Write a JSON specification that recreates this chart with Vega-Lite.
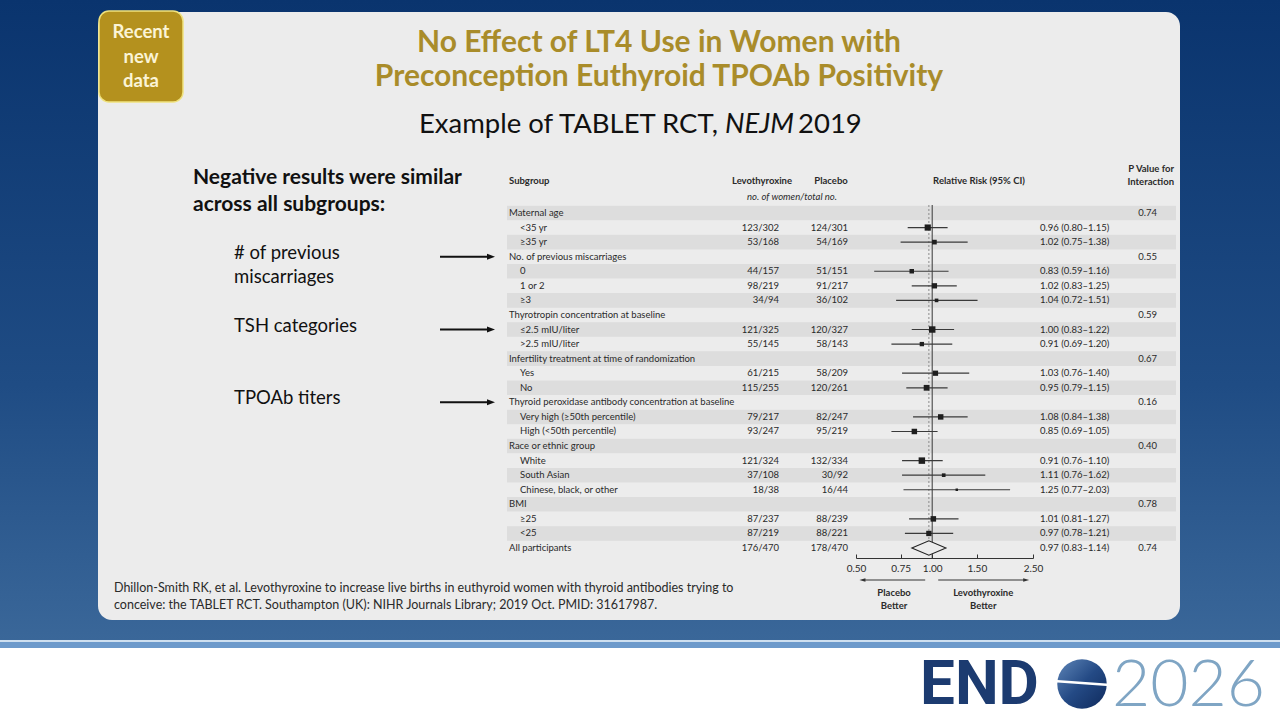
{
  "$schema": "https://vega.github.io/schema/vega-lite/v6.json",
  "width": 1280,
  "height": 720,
  "autosize": {"type": "none"},
  "padding": 0,
  "background": "#ffffff",
  "config": {
    "view": {"stroke": null},
    "text": {"font": "Lato"},
    "axis": {"labelFont": "Lato"}
  },
  "datasets": {
    "rows": [
      {"idx": 0, "label": "Maternal age", "kind": "head", "p": "0.74"},
      {"idx": 1, "label": "<35 yr", "kind": "item", "levo": "123/302", "plac": "124/301", "rr": 0.96, "lo": 0.80, "hi": 1.15, "n": 603, "ci": "0.96 (0.80–1.15)"},
      {"idx": 2, "label": "≥35 yr", "kind": "item", "levo": "53/168", "plac": "54/169", "rr": 1.02, "lo": 0.75, "hi": 1.38, "n": 337, "ci": "1.02 (0.75–1.38)"},
      {"idx": 3, "label": "No. of previous miscarriages", "kind": "head", "p": "0.55"},
      {"idx": 4, "label": "0", "kind": "item", "levo": "44/157", "plac": "51/151", "rr": 0.83, "lo": 0.59, "hi": 1.16, "n": 308, "ci": "0.83 (0.59–1.16)"},
      {"idx": 5, "label": "1 or 2", "kind": "item", "levo": "98/219", "plac": "91/217", "rr": 1.02, "lo": 0.83, "hi": 1.25, "n": 436, "ci": "1.02 (0.83–1.25)"},
      {"idx": 6, "label": "≥3", "kind": "item", "levo": "34/94", "plac": "36/102", "rr": 1.04, "lo": 0.72, "hi": 1.51, "n": 196, "ci": "1.04 (0.72–1.51)"},
      {"idx": 7, "label": "Thyrotropin concentration at baseline", "kind": "head", "p": "0.59"},
      {"idx": 8, "label": "≤2.5 mIU/liter", "kind": "item", "levo": "121/325", "plac": "120/327", "rr": 1.00, "lo": 0.83, "hi": 1.22, "n": 652, "ci": "1.00 (0.83–1.22)"},
      {"idx": 9, "label": ">2.5 mIU/liter", "kind": "item", "levo": "55/145", "plac": "58/143", "rr": 0.91, "lo": 0.69, "hi": 1.20, "n": 288, "ci": "0.91 (0.69–1.20)"},
      {"idx": 10, "label": "Infertility treatment at time of randomization", "kind": "head", "p": "0.67"},
      {"idx": 11, "label": "Yes", "kind": "item", "levo": "61/215", "plac": "58/209", "rr": 1.03, "lo": 0.76, "hi": 1.40, "n": 424, "ci": "1.03 (0.76–1.40)"},
      {"idx": 12, "label": "No", "kind": "item", "levo": "115/255", "plac": "120/261", "rr": 0.95, "lo": 0.79, "hi": 1.15, "n": 516, "ci": "0.95 (0.79–1.15)"},
      {"idx": 13, "label": "Thyroid peroxidase antibody concentration at baseline", "kind": "head", "p": "0.16"},
      {"idx": 14, "label": "Very high (≥50th percentile)", "kind": "item", "levo": "79/217", "plac": "82/247", "rr": 1.08, "lo": 0.84, "hi": 1.38, "n": 464, "ci": "1.08 (0.84–1.38)"},
      {"idx": 15, "label": "High (<50th percentile)", "kind": "item", "levo": "93/247", "plac": "95/219", "rr": 0.85, "lo": 0.69, "hi": 1.05, "n": 466, "ci": "0.85 (0.69–1.05)"},
      {"idx": 16, "label": "Race or ethnic group", "kind": "head", "p": "0.40"},
      {"idx": 17, "label": "White", "kind": "item", "levo": "121/324", "plac": "132/334", "rr": 0.91, "lo": 0.76, "hi": 1.10, "n": 658, "ci": "0.91 (0.76–1.10)"},
      {"idx": 18, "label": "South Asian", "kind": "item", "levo": "37/108", "plac": "30/92", "rr": 1.11, "lo": 0.76, "hi": 1.62, "n": 200, "ci": "1.11 (0.76–1.62)"},
      {"idx": 19, "label": "Chinese, black, or other", "kind": "item", "levo": "18/38", "plac": "16/44", "rr": 1.25, "lo": 0.77, "hi": 2.03, "n": 82, "ci": "1.25 (0.77–2.03)"},
      {"idx": 20, "label": "BMI", "kind": "head", "p": "0.78"},
      {"idx": 21, "label": "≥25", "kind": "item", "levo": "87/237", "plac": "88/239", "rr": 1.01, "lo": 0.81, "hi": 1.27, "n": 476, "ci": "1.01 (0.81–1.27)"},
      {"idx": 22, "label": "<25", "kind": "item", "levo": "87/219", "plac": "88/221", "rr": 0.97, "lo": 0.78, "hi": 1.21, "n": 440, "ci": "0.97 (0.78–1.21)"},
      {"idx": 23, "label": "All participants", "kind": "all", "levo": "176/470", "plac": "178/470", "rr": 0.97, "lo": 0.83, "hi": 1.14, "n": 940, "ci": "0.97 (0.83–1.14)", "p": "0.74"}
    ],
    "notes": [
      {"idx": 3, "note": "# of previous"},
      {"idx": 8, "note": "TSH categories"},
      {"idx": 13, "note": "TPOAb titers"}
    ]
  },
  "layer": [
    {
      "data": {"values": [{}]},
      "mark": {"type": "rect", "fill": {"gradient": "linear", "x1": 0, "y1": 0, "x2": 0, "y2": 1, "stops": [{"offset": 0, "color": "#0a346e"}, {"offset": 0.6, "color": "#1f4c84"}, {"offset": 1, "color": "#3a6799"}]}},
      "encoding": {"x": {"value": 0}, "x2": {"value": 1280}, "y": {"value": 0}, "y2": {"value": 641}}
    },
    {
      "data": {"values": [{}]},
      "mark": {"type": "rect", "fill": "#6d9acb"},
      "encoding": {"x": {"value": 0}, "x2": {"value": 1280}, "y": {"value": 642}, "y2": {"value": 648}}
    },
    {
      "data": {"values": [{}]},
      "mark": {"type": "rect", "fill": "#cfe0f0"},
      "encoding": {"x": {"value": 0}, "x2": {"value": 1280}, "y": {"value": 640}, "y2": {"value": 642}}
    },
    {
      "data": {"values": [{}]},
      "mark": {"type": "rect", "fill": "#ececec", "cornerRadius": 14},
      "encoding": {"x": {"value": 98}, "x2": {"value": 1180}, "y": {"value": 12}, "y2": {"value": 620}}
    },
    {
      "data": {"values": [{}]},
      "mark": {"type": "rect", "fill": "#b4911e", "stroke": "#efe27e", "strokeWidth": 1.5, "cornerRadius": 10},
      "encoding": {"x": {"value": 99}, "x2": {"value": 183}, "y": {"value": 11}, "y2": {"value": 102}}
    },
    {
      "data": {"values": [{}]},
      "mark": {"type": "text", "text": ["Recent", "new", "data"], "fontSize": 18.5, "fontWeight": "bold", "color": "#fbf4d6", "align": "center", "baseline": "middle", "lineHeight": 24.5},
      "encoding": {"x": {"value": 141}, "y": {"value": 32}}
    },
    {
      "data": {"values": [{}]},
      "mark": {"type": "text", "text": ["No Effect of LT4 Use in Women with", "Preconception Euthyroid TPOAb Positivity"], "fontSize": 30, "fontWeight": "bold", "color": "#a98c2a", "align": "center", "baseline": "middle", "lineHeight": 34},
      "encoding": {"x": {"value": 659}, "y": {"value": 43}}
    },
    {
      "data": {"values": [{}]},
      "mark": {"type": "text", "text": "Example of TABLET RCT,", "fontSize": 27.5, "color": "#111111", "align": "right", "baseline": "middle"},
      "encoding": {"x": {"value": 718}, "y": {"value": 125}}
    },
    {
      "data": {"values": [{}]},
      "mark": {"type": "text", "text": "NEJM", "fontSize": 27.5, "fontStyle": "italic", "color": "#111111", "align": "left", "baseline": "middle"},
      "encoding": {"x": {"value": 725}, "y": {"value": 125}}
    },
    {
      "data": {"values": [{}]},
      "mark": {"type": "text", "text": "2019", "fontSize": 27.5, "color": "#111111", "align": "left", "baseline": "middle"},
      "encoding": {"x": {"value": 798}, "y": {"value": 125}}
    },
    {
      "data": {"values": [{}]},
      "mark": {"type": "text", "text": ["Negative results were similar", "across all subgroups:"], "fontSize": 21, "fontWeight": "bold", "color": "#111111", "align": "left", "baseline": "middle", "lineHeight": 27},
      "encoding": {"x": {"value": 193}, "y": {"value": 178}}
    },
    {
      "data": {"values": [{}]},
      "mark": {"type": "text", "text": "miscarriages", "fontSize": 18.5, "color": "#111111", "align": "left", "baseline": "middle"},
      "encoding": {"x": {"value": 234}, "y": {"value": 277}}
    },
    {
      "data": {"name": "rows"},
      "transform": [{"filter": "datum.idx % 2 == 0"}],
      "mark": {"type": "rect", "fill": "#dddddd"},
      "encoding": {
        "y": {"field": "idx", "type": "ordinal", "axis": null, "scale": {"type": "band", "domain": [0, 1, 2, 3, 4, 5, 6, 7, 8, 9, 10, 11, 12, 13, 14, 15, 16, 17, 18, 19, 20, 21, 22, 23], "range": [205.7, 555.3], "paddingInner": 0, "paddingOuter": 0}},
        "x": {"value": 507},
        "x2": {"value": 1176}
      }
    },
    {
      "data": {"name": "notes"},
      "mark": {"type": "text", "fontSize": 18.5, "color": "#111111", "align": "left", "baseline": "middle", "dy": -4},
      "encoding": {"y": {"field": "idx", "type": "ordinal"}, "x": {"value": 234}, "text": {"field": "note"}}
    },
    {
      "data": {"name": "notes"},
      "mark": {"type": "rule", "color": "#111111", "strokeWidth": 2},
      "encoding": {"y": {"field": "idx", "type": "ordinal"}, "x": {"value": 440}, "x2": {"value": 489}}
    },
    {
      "data": {"name": "notes"},
      "mark": {"type": "point", "shape": "M-1,-0.75L1,0L-1,0.75Z", "size": 64, "filled": true, "color": "#111111", "opacity": 1},
      "encoding": {"y": {"field": "idx", "type": "ordinal"}, "x": {"value": 491}}
    },
    {
      "data": {"values": [{}]},
      "mark": {"type": "text", "text": "Subgroup", "fontSize": 9.5, "fontWeight": "bold", "color": "#2a2a2a", "align": "left", "baseline": "middle"},
      "encoding": {"x": {"value": 509}, "y": {"value": 181}}
    },
    {
      "data": {"values": [{}]},
      "mark": {"type": "text", "text": "Levothyroxine", "fontSize": 9.5, "fontWeight": "bold", "color": "#2a2a2a", "align": "center", "baseline": "middle"},
      "encoding": {"x": {"value": 762}, "y": {"value": 181}}
    },
    {
      "data": {"values": [{}]},
      "mark": {"type": "text", "text": "Placebo", "fontSize": 9.5, "fontWeight": "bold", "color": "#2a2a2a", "align": "center", "baseline": "middle"},
      "encoding": {"x": {"value": 831}, "y": {"value": 181}}
    },
    {
      "data": {"values": [{}]},
      "mark": {"type": "text", "text": "no. of women/total no.", "fontSize": 9.5, "fontStyle": "italic", "color": "#2a2a2a", "align": "center", "baseline": "middle"},
      "encoding": {"x": {"value": 792}, "y": {"value": 197}}
    },
    {
      "data": {"values": [{}]},
      "mark": {"type": "text", "text": "Relative Risk (95% CI)", "fontSize": 9.5, "fontWeight": "bold", "color": "#2a2a2a", "align": "center", "baseline": "middle"},
      "encoding": {"x": {"value": 979}, "y": {"value": 181}}
    },
    {
      "data": {"values": [{}]},
      "mark": {"type": "text", "text": ["P Value for", "Interaction"], "fontSize": 9.5, "fontWeight": "bold", "color": "#2a2a2a", "align": "right", "baseline": "middle", "lineHeight": 12.5},
      "encoding": {"x": {"value": 1174}, "y": {"value": 169}}
    },
    {
      "data": {"name": "rows"},
      "transform": [{"filter": "datum.kind != 'item'"}],
      "mark": {"type": "text", "fontSize": 9.5, "color": "#2a2a2a", "align": "left", "baseline": "middle"},
      "encoding": {"y": {"field": "idx", "type": "ordinal"}, "x": {"value": 509}, "text": {"field": "label"}}
    },
    {
      "data": {"name": "rows"},
      "transform": [{"filter": "datum.kind == 'item'"}],
      "mark": {"type": "text", "fontSize": 9.5, "color": "#2a2a2a", "align": "left", "baseline": "middle"},
      "encoding": {"y": {"field": "idx", "type": "ordinal"}, "x": {"value": 520}, "text": {"field": "label"}}
    },
    {
      "data": {"name": "rows"},
      "transform": [{"filter": "datum.levo"}],
      "mark": {"type": "text", "fontSize": 9.5, "color": "#2a2a2a", "align": "right", "baseline": "middle"},
      "encoding": {"y": {"field": "idx", "type": "ordinal"}, "x": {"value": 779}, "text": {"field": "levo"}}
    },
    {
      "data": {"name": "rows"},
      "transform": [{"filter": "datum.plac"}],
      "mark": {"type": "text", "fontSize": 9.5, "color": "#2a2a2a", "align": "right", "baseline": "middle"},
      "encoding": {"y": {"field": "idx", "type": "ordinal"}, "x": {"value": 848}, "text": {"field": "plac"}}
    },
    {
      "data": {"name": "rows"},
      "transform": [{"filter": "datum.ci"}],
      "mark": {"type": "text", "fontSize": 9.5, "color": "#2a2a2a", "align": "left", "baseline": "middle"},
      "encoding": {"y": {"field": "idx", "type": "ordinal"}, "x": {"value": 1040}, "text": {"field": "ci"}}
    },
    {
      "data": {"name": "rows"},
      "transform": [{"filter": "datum.p"}],
      "mark": {"type": "text", "fontSize": 9.5, "color": "#2a2a2a", "align": "right", "baseline": "middle"},
      "encoding": {"y": {"field": "idx", "type": "ordinal"}, "x": {"value": 1157}, "text": {"field": "p"}}
    },
    {
      "data": {"values": [{"ref": 1}]},
      "mark": {"type": "rule", "color": "#555555", "strokeWidth": 1.2},
      "encoding": {
        "x": {"field": "ref", "type": "quantitative", "scale": {"type": "log", "domain": [0.5, 2.5], "range": [856, 1033], "nice": false, "zero": false},
          "axis": {"title": null, "orient": "bottom", "offset": -162, "zindex": 1, "values": [0.5, 0.75, 1, 1.5, 2.5], "format": ".2f", "grid": false, "tickSize": -4, "labelPadding": 9, "labelFontSize": 10, "labelColor": "#2a2a2a", "domainColor": "#333333", "tickColor": "#333333", "labelFlush": false, "labelOverlap": false}},
        "y": {"value": 205},
        "y2": {"value": 558}
      }
    },
    {
      "data": {"name": "rows"},
      "transform": [{"filter": "datum.kind == 'all'"}],
      "mark": {"type": "rule", "color": "#8a8a8a", "strokeWidth": 1, "strokeDash": [2, 2]},
      "encoding": {"x": {"field": "rr", "type": "quantitative"}, "y": {"value": 205}, "y2": {"value": 548}}
    },
    {
      "data": {"name": "rows"},
      "transform": [{"filter": "datum.kind == 'item'"}],
      "mark": {"type": "rule", "color": "#3a3a3a", "strokeWidth": 1.2},
      "encoding": {"y": {"field": "idx", "type": "ordinal"}, "x": {"field": "lo", "type": "quantitative"}, "x2": {"field": "hi"}}
    },
    {
      "data": {"name": "rows"},
      "transform": [{"filter": "datum.kind == 'item'"}],
      "mark": {"type": "point", "shape": "square", "filled": true, "color": "#1e1e1e", "opacity": 1},
      "encoding": {
        "y": {"field": "idx", "type": "ordinal"},
        "x": {"field": "rr", "type": "quantitative"},
        "size": {"field": "n", "type": "quantitative", "legend": null, "scale": {"domain": [80, 660], "range": [6, 42]}}
      }
    },
    {
      "data": {"name": "rows"},
      "transform": [{"filter": "datum.kind == 'all'"}],
      "mark": {"type": "point", "shape": "M-1,0L0,-0.42L1,0L0,0.42Z", "size": 1160, "filled": false, "stroke": "#222222", "strokeWidth": 1.1, "fill": "#ececec", "fillOpacity": 1, "opacity": 1},
      "encoding": {"y": {"field": "idx", "type": "ordinal"}, "x": {"field": "rr", "type": "quantitative"}}
    },
    {
      "data": {"values": [{"from": 0.938, "to": 0.535}, {"from": 1.056, "to": 2.33}]},
      "mark": {"type": "rule", "color": "#333333", "strokeWidth": 1},
      "encoding": {"x": {"field": "from", "type": "quantitative"}, "x2": {"field": "to"}, "y": {"value": 580}}
    },
    {
      "data": {"values": [{"tip": 0.53, "dir": "M1,-0.6L-1,0L1,0.6Z"}, {"tip": 2.35, "dir": "M-1,-0.6L1,0L-1,0.6Z"}]},
      "mark": {"type": "point", "filled": true, "size": 36, "color": "#333333", "opacity": 1},
      "encoding": {"x": {"field": "tip", "type": "quantitative"}, "y": {"value": 580}, "shape": {"field": "dir", "type": "nominal", "scale": null, "legend": null}}
    },
    {
      "data": {"values": [{"pos": 0.707, "txt": ["Placebo", "Better"]}, {"pos": 1.59, "txt": ["Levothyroxine", "Better"]}]},
      "mark": {"type": "text", "fontSize": 9.5, "fontWeight": "bold", "color": "#2a2a2a", "align": "center", "baseline": "middle", "lineHeight": 13},
      "encoding": {"x": {"field": "pos", "type": "quantitative"}, "y": {"value": 593}, "text": {"field": "txt"}}
    },
    {
      "data": {"values": [{}]},
      "mark": {"type": "text", "text": ["Dhillon-Smith RK, et al. Levothyroxine to increase live births in euthyroid women with thyroid antibodies trying to", " conceive: the TABLET RCT. Southampton (UK): NIHR Journals Library; 2019 Oct. PMID: 31617987."], "fontSize": 12.5, "color": "#2a2a2a", "align": "left", "baseline": "middle", "lineHeight": 17},
      "encoding": {"x": {"value": 114}, "y": {"value": 588}}
    },
    {
      "data": {"values": [{}]},
      "mark": {"type": "text", "text": "END", "font": "Roboto", "fontSize": 62, "fontWeight": "bold", "color": "#1c3b70", "align": "left", "baseline": "alphabetic"},
      "encoding": {"x": {"value": 920}, "y": {"value": 704}}
    },
    {
      "data": {"values": [{}]},
      "mark": {"type": "point", "shape": "circle", "size": 2450, "filled": true, "opacity": 1, "fill": {"gradient": "linear", "x1": 0, "y1": 0, "x2": 1, "y2": 1, "stops": [{"offset": 0, "color": "#5f86b8"}, {"offset": 0.5, "color": "#244a85"}, {"offset": 1, "color": "#0f2a5c"}]}},
      "encoding": {"x": {"value": 1082}, "y": {"value": 684}}
    },
    {
      "data": {"values": [{}]},
      "mark": {"type": "rule", "color": "#ffffff", "strokeWidth": 2.5},
      "encoding": {"x": {"value": 1054}, "x2": {"value": 1110}, "y": {"value": 681}, "y2": {"value": 685}}
    },
    {
      "data": {"values": [{}]},
      "mark": {"type": "text", "text": "2026", "font": "Lato", "fontSize": 66, "fontWeight": 300, "color": "#7fa5c4", "align": "left", "baseline": "alphabetic"},
      "encoding": {"x": {"value": 1112}, "y": {"value": 706}}
    }
  ]
}
